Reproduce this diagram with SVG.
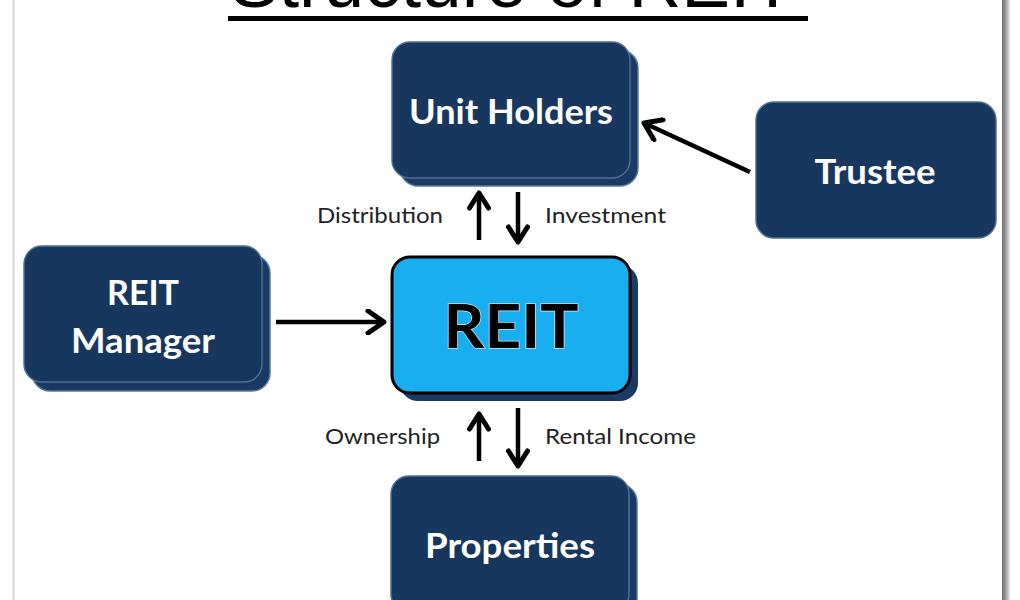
<svg xmlns="http://www.w3.org/2000/svg" width="1020" height="600" viewBox="0 0 1020 600">
  <defs>
    <linearGradient id="edge" x1="0" y1="0" x2="1" y2="0">
      <stop offset="0" stop-color="#6e6e6e"/>
      <stop offset="0.4" stop-color="#9a9a9a"/>
      <stop offset="1" stop-color="#ffffff"/>
    </linearGradient>
    <marker id="head" viewBox="0 0 24 24" refX="20" refY="12" markerWidth="24" markerHeight="24" markerUnits="userSpaceOnUse" orient="auto">
      <polyline points="5,2.5 20,12 5,21.5" fill="none" stroke="#000" stroke-width="5" stroke-linecap="round" stroke-linejoin="round"/>
    </marker>
    <marker id="headBig" viewBox="0 0 26 26" refX="22" refY="13" markerWidth="26" markerHeight="26" markerUnits="userSpaceOnUse" orient="auto">
      <polyline points="6,2 22,13 6,24" fill="none" stroke="#000" stroke-width="5" stroke-linecap="round" stroke-linejoin="round"/>
    </marker>
  </defs>
  <style>
    .navy { fill: #17375e; stroke: #4f6f95; stroke-width: 1.5; }
    .back { fill: #1b3a63; stroke: #5a7aa0; stroke-width: 1.5; }
    .wt { fill: #ffffff; font-family: Lato, "Open Sans", sans-serif; font-weight: 700; font-size: 34px; text-anchor: middle; }
    .lbl { fill: #222222; font-family: Lato, "Open Sans", sans-serif; font-size: 22px; }
    .conn { stroke: #000; stroke-width: 4.5; fill: none; }
  </style>
  <rect x="0" y="0" width="1020" height="600" fill="#ffffff"/>
  <!-- frame -->
  <line x1="13.5" y1="0" x2="13.5" y2="600" stroke="#d4d4d4" stroke-width="2"/>
  <rect x="1002" y="0" width="9" height="600" fill="url(#edge)"/>

  <!-- title -->
  <g id="title">
    <text x="230" y="7" font-family="'Liberation Sans', Arial, sans-serif" font-size="74" fill="#000" textLength="565" lengthAdjust="spacingAndGlyphs">Structure of REIT</text>
    <rect x="228" y="16" width="580" height="5" fill="#000"/>
  </g>

  <!-- nodes -->
  <g id="unit-holders">
    <rect class="back" x="400" y="50" width="238" height="136" rx="18"/>
    <rect class="navy" x="392" y="42" width="238" height="136" rx="18"/>
    <text class="wt" x="511" y="124" textLength="204" lengthAdjust="spacingAndGlyphs">Unit Holders</text>
  </g>
  <g id="trustee">
    <rect class="navy" x="756" y="102" width="240" height="136" rx="18"/>
    <text class="wt" x="875" y="184" textLength="121" lengthAdjust="spacingAndGlyphs">Trustee</text>
  </g>
  <g id="reit-manager">
    <rect class="back" x="32" y="255" width="238" height="136" rx="18"/>
    <rect class="navy" x="24" y="246" width="238" height="136" rx="18"/>
    <text class="wt" x="143" y="305" textLength="72" lengthAdjust="spacingAndGlyphs">REIT</text>
    <text class="wt" x="143" y="353" textLength="144" lengthAdjust="spacingAndGlyphs">Manager</text>
  </g>
  <g id="reit">
    <rect x="400" y="265" width="238" height="136" rx="18" fill="#1b3a63"/>
    <rect x="392" y="257" width="238" height="136" rx="18" fill="#19aeef" stroke="#000" stroke-width="3"/>
    <text x="511" y="348" font-family="Lato, 'Open Sans', sans-serif" font-weight="700" font-size="62" text-anchor="middle" fill="#000" stroke="#bfe9fb" stroke-width="1.5" paint-order="stroke" textLength="135" lengthAdjust="spacingAndGlyphs">REIT</text>
  </g>
  <g id="properties">
    <rect class="back" x="399" y="484" width="238" height="136" rx="18"/>
    <rect class="navy" x="391" y="476" width="238" height="136" rx="18"/>
    <text class="wt" x="510" y="558" textLength="170" lengthAdjust="spacingAndGlyphs">Properties</text>
  </g>

  <!-- connectors -->
  <g id="connectors">
    <line class="conn" x1="276" y1="322" x2="384" y2="322" marker-end="url(#headBig)"/>
    <line class="conn" x1="750" y1="172" x2="644" y2="123" marker-end="url(#headBig)"/>
    <line class="conn" x1="479" y1="240" x2="479" y2="193" marker-end="url(#head)"/>
    <line class="conn" x1="518" y1="192" x2="518" y2="242" marker-end="url(#head)"/>
    <line class="conn" x1="479" y1="461" x2="479" y2="414" marker-end="url(#head)"/>
    <line class="conn" x1="518" y1="408" x2="518" y2="466" marker-end="url(#head)"/>
  </g>

  <!-- labels -->
  <g id="labels">
    <text class="lbl" x="317" y="223" textLength="126" lengthAdjust="spacingAndGlyphs">Distribution</text>
    <text class="lbl" x="545" y="223" textLength="121" lengthAdjust="spacingAndGlyphs">Investment</text>
    <text class="lbl" x="325" y="444" textLength="115" lengthAdjust="spacingAndGlyphs">Ownership</text>
    <text class="lbl" x="545" y="444" textLength="151" lengthAdjust="spacingAndGlyphs">Rental Income</text>
  </g>
</svg>
